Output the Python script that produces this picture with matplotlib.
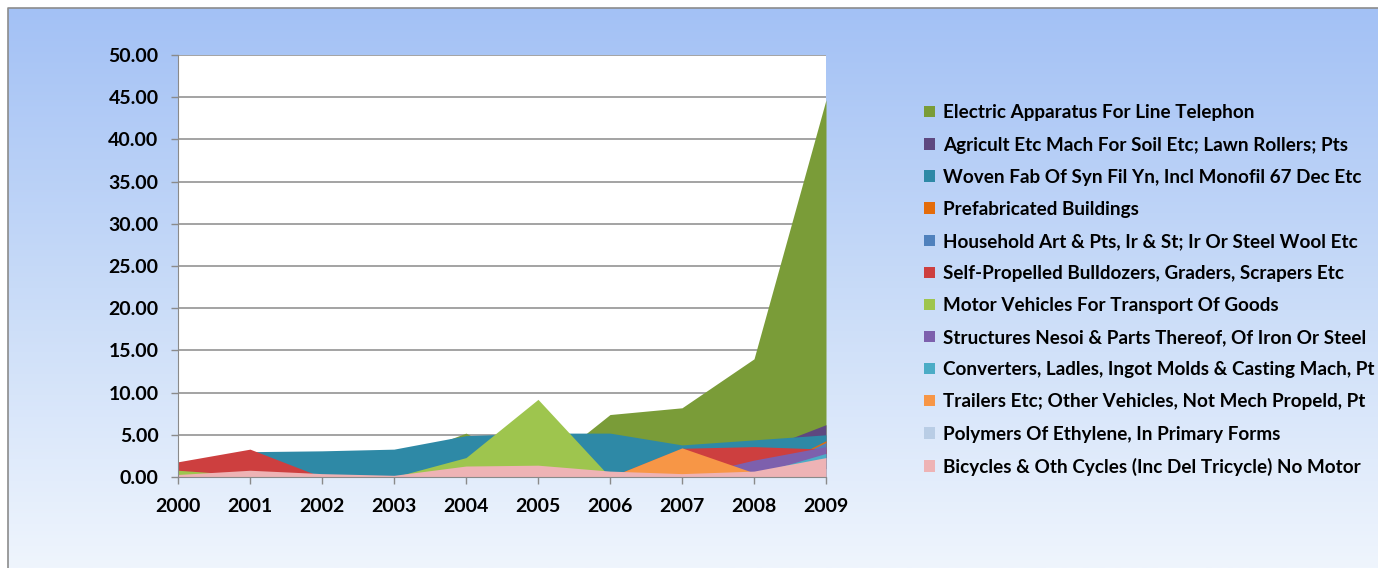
import numpy as np
import matplotlib
matplotlib.use("Agg")
import matplotlib.pyplot as plt
from matplotlib.colors import LinearSegmentedColormap
from matplotlib.patches import Patch

plt.rcParams['font.family'] = ['Lato', 'DejaVu Sans']

# 年份
years = ['2000', '2001', '2002', '2003', '2004', '2005', '2006', '2007', '2008', '2009']

# 各类商品数值（按图例顺序，前面的画在后面）
electric = [0.5, 1.0, 1.5, 2.0, 5.2, 0.6, 7.4, 8.2, 14.0, 44.7]
agricult = [0, 0, 0, 0, 0, 0, 0, 0, 2.9, 6.2]
woven = [1.2, 3.0, 3.1, 3.3, 4.9, 5.2, 5.2, 3.8, 4.4, 5.0]
prefab = [0, 0, 0, 0, 0, 0, 0, 0, 0, 4.3]
household = [0, 0, 0, 0, 0, 0, 0, 0, 0, 4.1]
bulldozers = [1.8, 3.3, 0, 0, 0, 0, 0, 3.4, 3.6, 3.3]
motor = [0.8, 0.2, 0, 0, 2.3, 9.2, 0, 0, 0, 0]
structures = [0, 0, 0, 0, 0, 0, 0, 0, 2.0, 3.6]
converters = [0, 0, 0, 0, 0, 0, 0, 0, 0.3, 2.8]
trailers = [0, 0, 0, 0, 0, 0, 0, 3.45, 0.5, 0]
polymers = [0.1, 0.1, 0.2, 0.1, 0.3, 0.4, 0.2, 0.2, 0.3, 1.0]
bicycles = [0.3, 0.8, 0.4, 0.2, 1.3, 1.4, 0.7, 0.4, 0.7, 2.3]

labels = [
    'Electric Apparatus For Line Telephon',
    'Agricult Etc Mach For Soil Etc; Lawn Rollers; Pts',
    'Woven Fab Of Syn Fil Yn, Incl Monofil 67 Dec Etc',
    'Prefabricated Buildings',
    'Household Art & Pts, Ir & St; Ir Or Steel Wool Etc',
    'Self-Propelled Bulldozers, Graders, Scrapers Etc',
    'Motor Vehicles For Transport Of Goods',
    'Structures Nesoi & Parts Thereof, Of Iron Or Steel',
    'Converters, Ladles, Ingot Molds & Casting Mach, Pt',
    'Trailers Etc; Other Vehicles, Not Mech Propeld, Pt',
    'Polymers Of Ethylene, In Primary Forms',
    'Bicycles & Oth Cycles (Inc Del Tricycle) No Motor',
]
series = [electric, agricult, woven, prefab, household, bulldozers,
          motor, structures, converters, trailers, polymers, bicycles]
colors = ['#7a9c38', '#5e4880', '#2e89a6', '#e46c0a', '#4f81bd', '#cd3f3f',
          '#9ec54e', '#7d60ad', '#4bacc6', '#f79646', '#b9cde5', '#eeb3b5']

fig = plt.figure(figsize=(13.78, 5.68), dpi=100)

# 背景渐变
bg = fig.add_axes([0, 0, 1, 1], zorder=-10)
bg.axis('off')
cmap = LinearSegmentedColormap.from_list('bg', ['#eff5fd', '#c8dbf8', '#a3c1f5'])
grad = np.linspace(0, 1, 256).reshape(-1, 1)
bg.imshow(grad, aspect='auto', cmap=cmap, origin='lower',
          extent=[8 / 1378, 1, 0, 1 - 8 / 568])
bg.plot([8 / 1378, 8 / 1378, 1], [0, 1 - 8 / 568, 1 - 8 / 568],
        color='#8c8c8c', lw=1.2)
bg.set_xlim(0, 1)
bg.set_ylim(0, 1)

ax = fig.add_axes([178 / 1378, 1 - 477 / 568, 648 / 1378, 422 / 568])
ax.set_facecolor('white')

x = np.arange(len(years))
for vals, c, lab in zip(series, colors, labels):
    ax.fill_between(x, 0, vals, color=c, lw=0, label=lab)

ax.set_xlim(0, 9)
ax.set_ylim(0, 50)
ax.set_yticks(np.arange(0, 51, 5))
ax.set_yticklabels([f'{v:.2f}' for v in np.arange(0, 51, 5)])
ax.set_xticks(x)
ax.set_xticklabels(years)
ax.grid(axis='y', color='#8a8a8a', lw=1.1)
ax.set_axisbelow(True)
for s in ['top', 'right']:
    ax.spines[s].set_visible(False)
for s in ['left', 'bottom']:
    ax.spines[s].set_color('#8a8a8a')
ax.tick_params(axis='both', colors='#8a8a8a', labelcolor='black',
               labelsize=14, length=5, width=1)
ax.tick_params(axis='x', pad=10)
ax.tick_params(axis='y', pad=9)
for t in ax.get_xticklabels() + ax.get_yticklabels():
    t.set_fontweight('bold')

handles = [Patch(facecolor=c, label=l) for c, l in zip(colors, labels)]
leg = fig.legend(handles=handles, loc='upper left',
                 bbox_to_anchor=(915 / 1378, 1 - 95 / 568),
                 frameon=False, fontsize=13.6, handlelength=0.55,
                 handleheight=0.55, handletextpad=0.45, labelspacing=0.8,
                 borderpad=0)
for t in leg.get_texts():
    t.set_fontweight('bold')

fig.savefig('out.png', dpi=100)
